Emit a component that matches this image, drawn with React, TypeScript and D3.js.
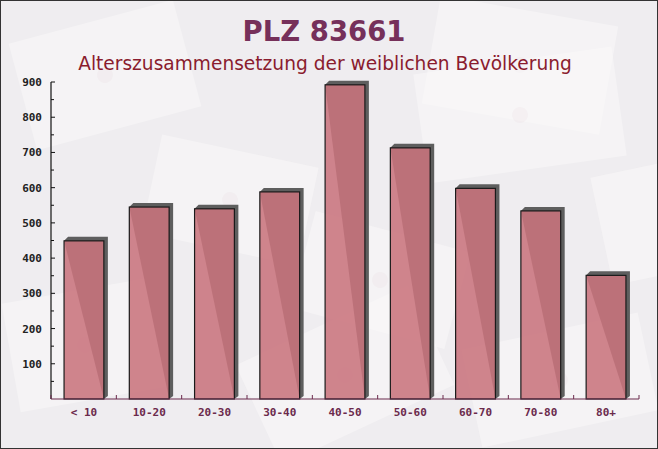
import React from "react";
import * as d3 from "d3";

const categories = ["< 10", "10-20", "20-30", "30-40", "40-50", "50-60", "60-70", "70-80", "80+"];
const values = [449, 545, 540, 588, 892, 713, 598, 534, 351];
const yTicks = [100, 200, 300, 400, 500, 600, 700, 800, 900];
const title = "PLZ 83661";
const subtitle = "Alterszusammensetzung der weiblichen Bevölkerung";

const envelopes = [
  { x: 20, y: 20, w: 170, h: 110, r: -15 },
  { x: 430, y: 10, w: 180, h: 110, r: 10 },
  { x: 150, y: 150, w: 160, h: 100, r: 12 },
  { x: 420, y: 60, w: 200, h: 110, r: -8 },
  { x: 600, y: 160, w: 160, h: 110, r: -12 },
  { x: 10, y: 290, w: 150, h: 110, r: -10 },
  { x: 250, y: 320, w: 190, h: 110, r: -25 },
  { x: 470, y: 330, w: 180, h: 100, r: -12 },
  { x: 300, y: 230, w: 160, h: 100, r: 15 },
];

export default function App() {
  const W = 658, H = 449;
  const x0 = 51, x1 = 639, yBase = 399, yTop = 82;
  const x = d3.scaleBand<string>().domain(categories).range([x0, x1]).paddingInner(0.39).paddingOuter(0.2);
  const y = d3.scaleLinear().domain([0, 900]).range([yBase, yTop]);
  const minor = d3.range(50, 901, 50);
  const bandStep = (x1 - x0) / categories.length;
  const xTicks = d3.range(0, categories.length + 1).map((i) => x0 + i * bandStep);
  const mono = "'DejaVu Sans Mono', monospace";
  return (
    <svg width={W} height={H} style={{ position: "absolute", left: 0, top: 0 }}>
      <rect x={0} y={0} width={W} height={H} fill="#efedf0" />
      {envelopes.map((e, i) => (
        <g key={i} transform={`rotate(${e.r} ${e.x + e.w / 2} ${e.y + e.h / 2})`} opacity={0.5}>
          <rect x={e.x} y={e.y} width={e.w} height={e.h} fill="#fbfafa" />
          <circle cx={e.x + e.w / 2} cy={e.y + e.h / 2} r={8} fill="#f5eef0" />
        </g>
      ))}
      <rect x={0.5} y={0.5} width={W - 1} height={H - 1} fill="none" stroke="#333" strokeWidth={1} />
      <text x={324} y={41} textAnchor="middle" fontFamily="'DejaVu Sans', sans-serif" fontWeight="bold" fontSize={27.5} fill="#76305a">
        {title}
      </text>
      <text x={325} y={70} textAnchor="middle" fontFamily="'DejaVu Sans', sans-serif" fontSize={18.6} fill="#8a1c2e">
        {subtitle}
      </text>
      {categories.map((c, i) => {
        const bx = x(c)!;
        const bw = x.bandwidth();
        const by = y(values[i]);
        const d = 4;
        return (
          <g key={c}>
            <path
              d={`M${bx},${by} L${bx + d},${by - d} L${bx + bw + d},${by - d} L${bx + bw + d},${yBase - 3} L${bx + bw},${yBase} Z`}
              fill="#5e5e5e"
            />
            <rect x={bx} y={by} width={bw} height={yBase - by} fill="#c9747d" fillOpacity={0.88} stroke="#1a1a1a" strokeWidth={1.2} />
          </g>
        );
      })}
      <line x1={x0} x2={x0} y1={yTop} y2={yBase} stroke="#111" strokeWidth={1.2} />
      {minor.map((v) => (
        <line key={v} x1={x0} x2={x0 + (v % 100 === 0 ? 4 : 3)} y1={y(v)} y2={y(v)} stroke="#111" strokeWidth={1} />
      ))}
      {yTicks.map((v) => (
        <text key={v} x={42} y={y(v) + 4} textAnchor="end" fontFamily={mono} fontWeight="bold" fontSize={11} fill="#222">
          {v}
        </text>
      ))}
      <line x1={x0} x2={x1} y1={yBase} y2={yBase} stroke="#6b2a4c" strokeWidth={1.2} />
      {xTicks.map((t, i) => (
        <line key={i} x1={t} x2={t} y1={yBase} y2={yBase - 4} stroke="#6b2a4c" strokeWidth={1} />
      ))}
      {categories.map((c) => (
        <text key={c} x={x(c)! + x.bandwidth() / 2} y={416} textAnchor="middle" fontFamily={mono} fontWeight="bold" fontSize={11} fill="#6b2a4c">
          {c}
        </text>
      ))}
    </svg>
  );
}
